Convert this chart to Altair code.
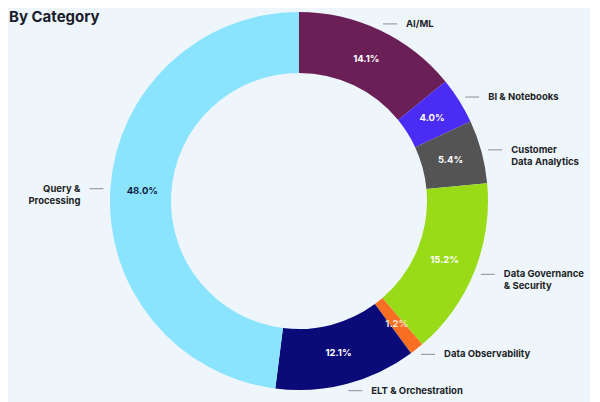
import math
import altair as alt
import pandas as pd

# ---- data ----
categories = ["AI/ML", "BI & Notebooks", "Customer Data Analytics",
              "Data Governance & Security", "Data Observability",
              "ELT & Orchestration", "Query & Processing"]
display_labels = ["AI/ML", "BI & Notebooks", "Customer\nData Analytics",
                  "Data Governance\n& Security", "Data Observability",
                  "ELT & Orchestration", "Query &\nProcessing"]
values = [14.1, 4.0, 5.4, 15.2, 1.2, 12.1, 48.0]
slice_colors = ["#6A1F57", "#4A2CF4", "#545454", "#9ADB17", "#F86F23", "#0A0A78", "#8AE4FD"]
pct_colors = ["#FFFFFF", "#FFFFFF", "#FFFFFF", "#FFFFFF", "#FFE2CC", "#FFFFFF", "#0F1B3D"]
title_text = "By Category"

# ---- layout ----
W, H = 582, 386
CX, CY = W / 2, H / 2
R_OUT, R_IN = 189, 128
R_LBL = 157
R_LEAD = 196
LEAD_LEN = 14
TEXT_GAP = 9
BG = "#EEF5FB"
FONT = "Inter"

df = pd.DataFrame({
    "category": categories,
    "label": display_labels,
    "value": values,
    "order": list(range(len(categories))),
    "pct": [f"{v:.1f}%" for v in values],
    "pct_color": pct_colors,
})
total = df["value"].sum()
cum = df["value"].cumsum()
mid = (cum - df["value"] / 2) / total * 2 * math.pi
sx = mid.apply(math.sin)
cy_ = mid.apply(math.cos)
x0 = CX + R_LEAD * sx
y0 = CY - R_LEAD * cy_
right = sx >= 0
df["lx1"] = x0.where(right, x0 - LEAD_LEN)
df["lx2"] = (x0 + LEAD_LEN).where(right, x0)
df["ly"] = y0
df["tx"] = (x0 + LEAD_LEN + TEXT_GAP).where(right, x0 - LEAD_LEN - TEXT_GAP)
df["side"] = ["right" if r else "left" for r in right]

color_scale = alt.Scale(domain=categories, range=slice_colors)

base = alt.Chart(df)

arcs = base.mark_arc(innerRadius=R_IN, outerRadius=R_OUT, stroke=None).encode(
    theta=alt.Theta("value:Q", stack=True),
    order=alt.Order("order:Q"),
    color=alt.Color("category:N", scale=color_scale, legend=None),
)

pcts = base.mark_text(radius=R_LBL, font=FONT, fontSize=9.5, fontWeight="bold").encode(
    theta=alt.Theta("value:Q", stack=True),
    order=alt.Order("order:Q"),
    text="pct:N",
    color=alt.Color("pct_color:N", scale=None, legend=None),
)

leads = base.mark_rule(color="#8a8f96", strokeWidth=1).encode(
    x=alt.X("lx1:Q", scale=None, axis=None),
    x2="lx2:Q",
    y=alt.Y("ly:Q", scale=None, axis=None),
)

right_lbl = base.transform_filter(alt.datum.side == "right").mark_text(
    align="left", baseline="middle", font=FONT, fontSize=9.5, fontWeight="bold",
    color="#1d1f26", lineBreak="\n", lineHeight=12,
).encode(
    x=alt.X("tx:Q", scale=None, axis=None),
    y=alt.Y("ly:Q", scale=None, axis=None),
    text="label:N",
)

left_lbl = base.transform_filter(alt.datum.side == "left").mark_text(
    align="right", baseline="middle", font=FONT, fontSize=9.5, fontWeight="bold",
    color="#1d1f26", lineBreak="\n", lineHeight=12,
).encode(
    x=alt.X("tx:Q", scale=None, axis=None),
    y=alt.Y("ly:Q", scale=None, axis=None),
    text="label:N",
)

title = alt.Chart(pd.DataFrame({"t": [title_text]})).mark_text(
    align="left", baseline="alphabetic", font=FONT, fontSize=15, fontWeight="bold",
    color="#1a1d2b",
).encode(x=alt.value(1), y=alt.value(14), text="t:N")

chart = alt.layer(arcs, pcts, leads, right_lbl, left_lbl, title).properties(
    width=W, height=H, background=BG,
    padding={"left": 0, "top": 0, "right": 0, "bottom": 8},
    autosize=alt.AutoSizeParams(type="none"),
).configure_view(stroke=None)

chart.save("out.html", embed_options={"renderer": "svg", "actions": False})
